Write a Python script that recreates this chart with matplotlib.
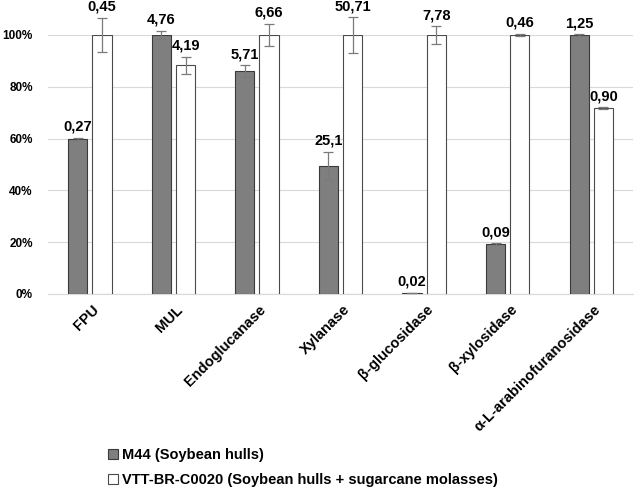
import numpy as np
from matplotlib import pyplot as plt
import matplotlib.transforms as mtransforms

plt.rcParams['font.family'] = ['Liberation Sans', 'DejaVu Sans']

categories = ['FPU', 'MUL', 'Endoglucanase', 'Xylanase', 'β-glucosidase',
              'β-xylosidase', 'α-L-arabinofuranosidase']
m44_pct = [60, 100, 86, 49.5, 0.3, 19.3, 100]
m44_err = [0.4, 1.5, 2.3, 5.4, 0.1, 0.3, 0.3]
m44_text = ['0,27', '4,76', '5,71', '25,1', '0,02', '0,09', '1,25']
vtt_pct = [100, 88.3, 100, 100, 100, 100, 71.8]
vtt_err = [6.7, 3.3, 4.2, 6.8, 3.3, 0.5, 0.3]
vtt_text = ['0,45', '4,19', '6,66', '50,71', '7,78', '0,46', '0,90']
series = ['M44 (Soybean hulls)', 'VTT-BR-C0020 (Soybean hulls + sugarcane molasses)']

fig = plt.figure(figsize=(6.36, 4.9), dpi=100)
ax = fig.add_axes([0.0755, 0.40, 0.92, 0.5286])

x = np.arange(len(categories))
w = 0.23
gap = 0.03
pos1 = x - w/2 - gap
pos2 = x + w/2 + gap

ekw = dict(ecolor='#7a7a7a', elinewidth=0.9, capsize=3.5, capthick=0.9)
b1 = ax.bar(pos1, m44_pct, w, color='#7f7f7f', edgecolor='#3a3a3a', linewidth=0.8,
            yerr=m44_err, error_kw=ekw, label=series[0], zorder=3)
b2 = ax.bar(pos2, vtt_pct, w, color='white', edgecolor='#4a4a4a', linewidth=0.8,
            yerr=vtt_err, error_kw=ekw, label=series[1], zorder=3)
for c in list(b1.errorbar.lines[1]) + list(b1.errorbar.lines[2]) + \
         list(b2.errorbar.lines[1]) + list(b2.errorbar.lines[2]):
    c.set_clip_on(False)
    c.set_zorder(4)

for px, v, e, t in zip(pos1, m44_pct, m44_err, m44_text):
    ax.annotate(t, (px, v + e), xytext=(0, 3), textcoords='offset points',
                ha='center', va='bottom', fontsize=10.5, fontweight='bold',
                annotation_clip=False)
for px, v, e, t in zip(pos2, vtt_pct, vtt_err, vtt_text):
    ax.annotate(t, (px, v + e), xytext=(0, 3), textcoords='offset points',
                ha='center', va='bottom', fontsize=10.5, fontweight='bold',
                annotation_clip=False)

ax.set_ylim(0, 100)
ax.set_xlim(-0.5, len(categories) - 0.5)
ax.set_yticks(np.arange(0, 101, 20))
ax.set_yticklabels([f'{v}%' for v in range(0, 101, 20)], fontsize=8.5, fontweight='bold')
ax.yaxis.grid(True, color='#d9d9d9', linewidth=0.8, zorder=0)
ax.set_axisbelow(True)
for s in ['top', 'right', 'left']:
    ax.spines[s].set_visible(False)
ax.spines['bottom'].set_color('#d9d9d9')
ax.tick_params(axis='y', length=0, pad=11)
ax.tick_params(axis='x', length=0, pad=0)
ax.set_xticks(x)
ax.set_xticklabels(categories, rotation=45, ha='right', rotation_mode='anchor',
                   fontsize=10.5, fontweight='bold')
shift = mtransforms.ScaledTranslation(1.5 / 72, -6 / 72, fig.dpi_scale_trans)
for lab in ax.get_xticklabels():
    lab.set_transform(lab.get_transform() + shift)

fig.legend(handles=[b1, b2], labels=series, loc='upper left',
           bbox_to_anchor=(0.16, 0.098), frameon=False,
           prop={'weight': 'bold', 'size': 10.5},
           handlelength=0.7, handleheight=0.7, handletextpad=0.3,
           labelspacing=0.75, borderaxespad=0)

fig.savefig('out.png', dpi=100)
